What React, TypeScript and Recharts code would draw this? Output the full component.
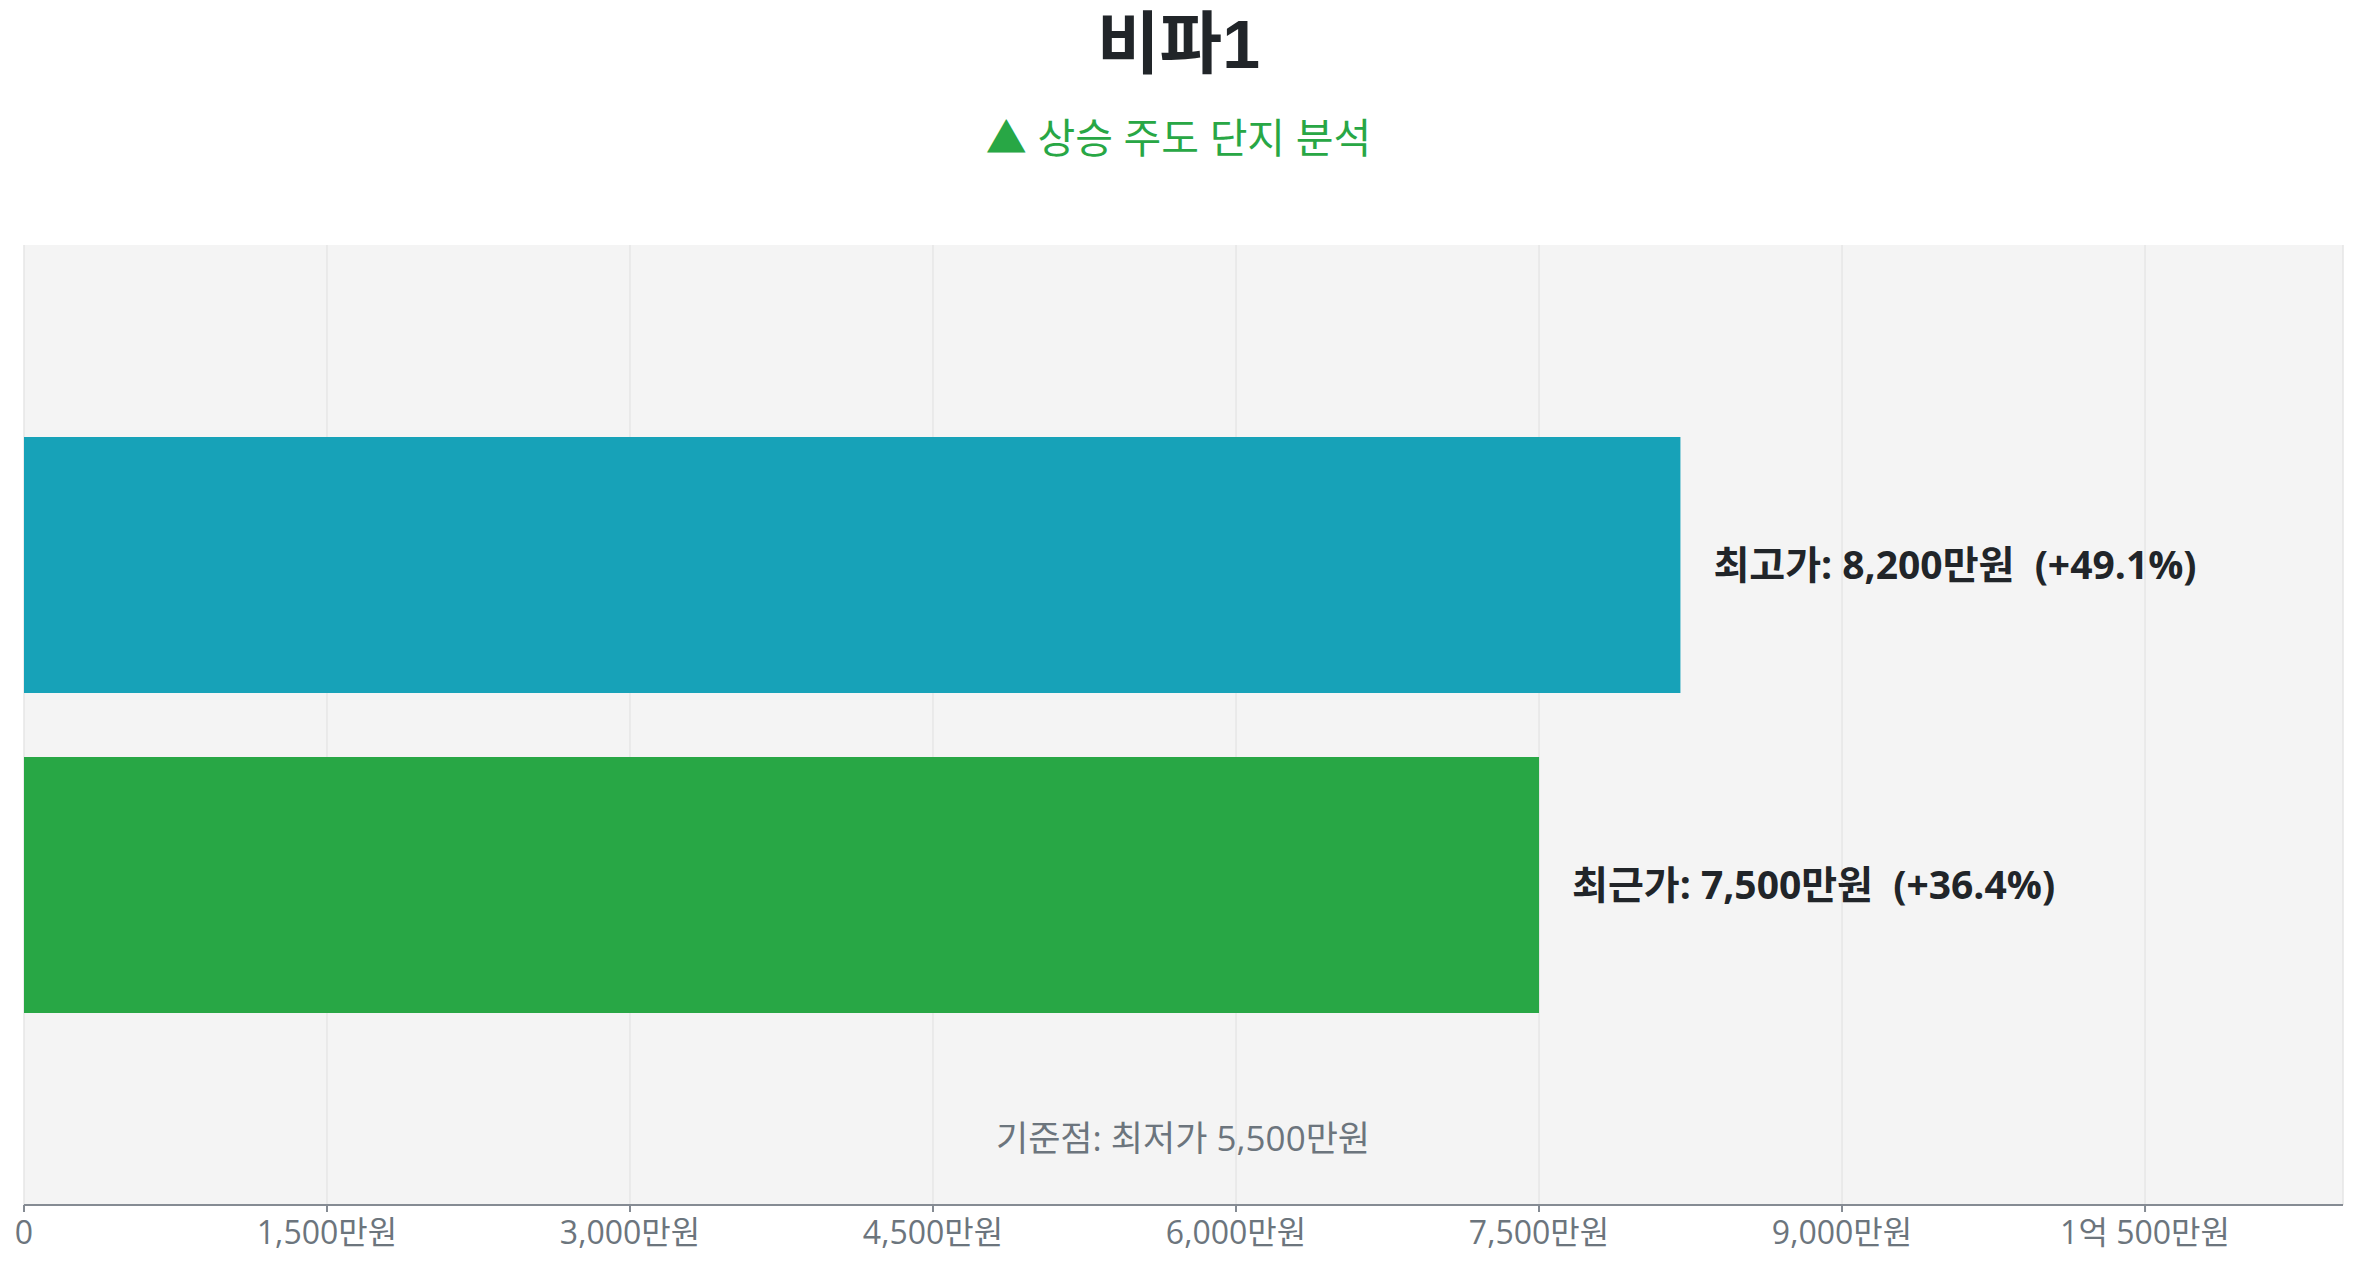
import React from 'react';
import { BarChart, Bar, XAxis, YAxis, CartesianGrid, LabelList } from 'recharts';

// ---- data ----
const complexName = '비파1';
const subtitleText = '▲ 상승 주도 단지 분석';
const seriesKeys = ['high', 'recent'];
const seriesLabels = ['최고가', '최근가'];
const seriesValues = [8200, 7500];
const seriesColors = ['#17a2b8', '#28a745'];
const basePrice = 5500;
const baseLabel = '기준점: 최저가 5,500만원';
const tickValues = [0, 1500, 3000, 4500, 6000, 7500, 9000, 10500];
const tickLabels = ['0', '1,500만원', '3,000만원', '4,500만원', '6,000만원', '7,500만원', '9,000만원', '1억 500만원'];
const axisMax = 11480;

const chartData = [
  {
    name: complexName,
    [seriesKeys[0]]: seriesValues[0],
    [seriesKeys[1]]: seriesValues[1],
  },
];

const FONT = '"Open Sans", "Noto Sans CJK KR", sans-serif';
const TITLE_FONT = '"Liberation Sans", "Noto Sans CJK KR", sans-serif';

const fmtLabel = (idx: number) => {
  const v = seriesValues[idx];
  const pct = ((v - basePrice) / basePrice) * 100;
  return `${seriesLabels[idx]}: ${v.toLocaleString('en-US')}만원  (+${pct.toFixed(1)}%)`;
};

const makeLabel = (idx: number) => (props: any) => {
  const { x, y, width, height } = props;
  return (
    <text
      x={Number(x) + Number(width) + 33}
      y={Number(y) + Number(height) / 2}
      dy="0.35em"
      fill="#212529"
      fontSize={39}
      fontWeight={700}
      fontFamily={FONT}
      style={{ whiteSpace: 'pre' }}
    >
      {fmtLabel(idx)}
    </text>
  );
};

export default function App() {
  return (
    <div style={{ position: 'relative', width: 2341, height: 1255, fontFamily: FONT }}>
      <div
        style={{
          position: 'absolute',
          top: 0,
          left: 0,
          width: 2341,
          textAlign: 'center',
          fontSize: 68,
          lineHeight: '72px',
          fontWeight: 700,
          color: '#212529',
          fontFamily: TITLE_FONT,
        }}
      >
        {complexName}
      </div>
      <div
        style={{
          position: 'absolute',
          top: 103,
          left: 0,
          width: 2341,
          textAlign: 'center',
          fontSize: 41,
          lineHeight: '52px',
          color: '#28a745',
          whiteSpace: 'pre',
        }}
      >
        {subtitleText}
      </div>
      <div style={{ position: 'absolute', top: 227, left: 0 }}>
        <BarChart
          width={2341}
          height={1025}
          data={chartData}
          layout="vertical"
          margin={{ top: 10, right: 6, bottom: 5, left: 16 }}
          barCategoryGap="20%"
          barGap={64}
        >
          <CartesianGrid horizontal={false} stroke="#e6e6e6" strokeWidth={1.5} fill="#f4f4f4" />
          <XAxis
            type="number"
            domain={[0, axisMax]}
            ticks={tickValues}
            interval={0}
            tickFormatter={(v: number) => tickLabels[tickValues.indexOf(v)] ?? String(v)}
            axisLine={{ stroke: '#858b93', strokeWidth: 2 }}
            tickLine={{ stroke: '#858b93', strokeWidth: 2 }}
            tickSize={7}
            tickMargin={9}
            tick={{ fill: '#6c757d', fontSize: 32, fontFamily: FONT }}
            height={50}
          />
          <YAxis
            type="category"
            dataKey="name"
            width={0}
            tick={false}
            tickLine={false}
            axisLine={{ stroke: '#858b93', strokeWidth: 2 }}
          />
          {seriesKeys.map((k, i) => (
            <Bar key={k} dataKey={k} fill={seriesColors[i]} isAnimationActive={false}>
              <LabelList dataKey={k} content={makeLabel(i)} />
            </Bar>
          ))}
        </BarChart>
      </div>
      <div
        style={{
          position: 'absolute',
          top: 1108,
          left: 675,
          width: 1000,
          textAlign: 'center',
          fontSize: 35,
          lineHeight: '44px',
          color: '#6c757d',
        }}
      >
        {baseLabel}
      </div>
    </div>
  );
}
